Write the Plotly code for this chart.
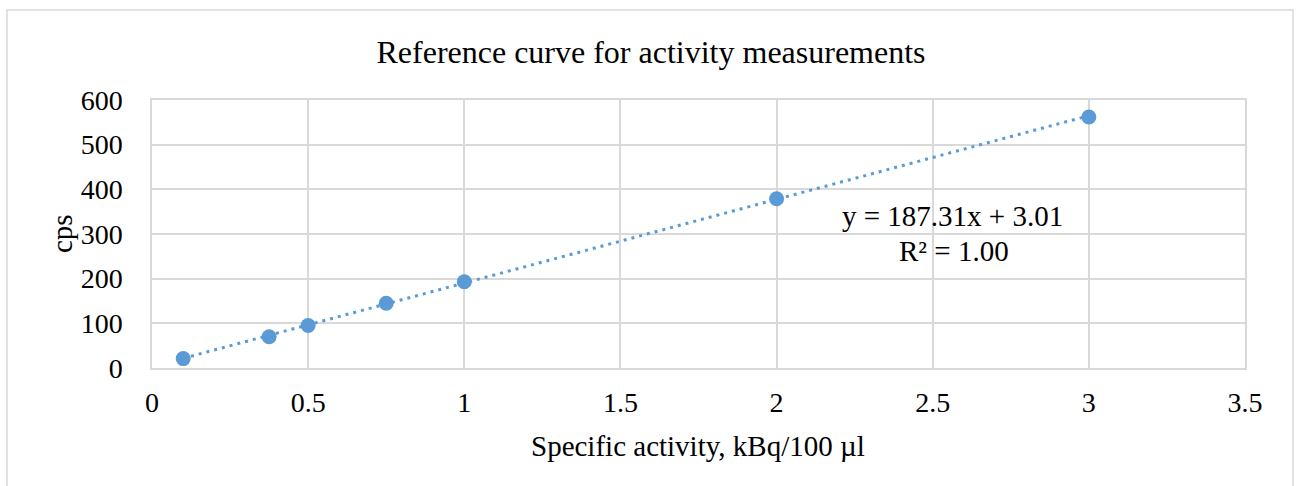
import plotly.graph_objects as go

# Data
activity = [0.1, 0.375, 0.5, 0.75, 1.0, 2.0, 3.0]
cps = [21, 70, 95, 145, 193, 379, 562]

# Displayed trendline coefficients
slope = 187.31
intercept = 3.01
r_squared = 1.00

x_ticks = [0, 0.5, 1, 1.5, 2, 2.5, 3, 3.5]
y_ticks = [0, 100, 200, 300, 400, 500, 600]

FONT = "Liberation Serif, Times New Roman, serif"
BLUE = "#5B9BD5"
GRID = "#d9d9d9"

trend_x = [min(activity), max(activity)]
trend_y = [slope * v + intercept for v in trend_x]

fig = go.Figure()
fig.add_trace(go.Scatter(
    x=trend_x, y=trend_y, mode="lines",
    line=dict(color=BLUE, width=3, dash="3px,5px"),
    hoverinfo="skip", showlegend=False,
))
fig.add_trace(go.Scatter(
    x=activity, y=cps, mode="markers",
    marker=dict(color=BLUE, size=15, line=dict(width=0)),
    showlegend=False,
))

W, H = 1299, 486
L, R, T, B = 152, 1245, 100, 368

fig.update_layout(
    width=W, height=H,
    margin=dict(l=L, r=W - R, t=T, b=H - B, pad=0),
    paper_bgcolor="white", plot_bgcolor="white",
    font=dict(family=FONT, size=28, color="black"),
    title=dict(text="Reference curve for activity measurements",
               x=651 / W, xanchor="center", xref="container",
               y=1 - 52 / H, yanchor="middle", yref="container",
               font=dict(family=FONT, size=32, color="black")),
    xaxis=dict(range=[0, 3.5], tickvals=x_ticks, ticktext=[f"{v:g}" for v in x_ticks],
               showgrid=True, gridcolor=GRID, gridwidth=1.5,
               showline=True, linecolor=GRID, linewidth=1.5, mirror=True,
               zeroline=False, ticks="outside", ticklen=9, tickcolor="rgba(0,0,0,0)",
               tickfont=dict(family=FONT, size=28, color="black")),
    yaxis=dict(range=[0, 600], tickvals=y_ticks, ticktext=[str(v) for v in y_ticks],
               showgrid=True, gridcolor=GRID, gridwidth=1.5,
               showline=True, linecolor=GRID, linewidth=1.5, mirror=True,
               zeroline=False, ticks="outside", ticklen=22, tickcolor="rgba(0,0,0,0)",
               tickfont=dict(family=FONT, size=28, color="black")),
    shapes=[dict(type="rect", xref="paper", yref="paper",
                 x0=(7 - L) / (R - L), x1=(1293 - L) / (R - L),
                 y0=(B - 520) / (B - T), y1=(B - 10) / (B - T),
                 line=dict(color=GRID, width=1.5), fillcolor="rgba(0,0,0,0)",
                 layer="below")],
    annotations=[
        dict(text="Specific activity, kBq/100 µl", xref="paper", yref="paper",
             x=(698 - L) / (R - L), y=(B - 446) / (B - T),
             xanchor="center", yanchor="middle", showarrow=False,
             font=dict(family=FONT, size=29, color="black")),
        dict(text="cps", xref="paper", yref="paper", textangle=-90,
             x=(62 - L) / (R - L), y=(B - 234) / (B - T),
             xanchor="center", yanchor="middle", showarrow=False,
             font=dict(family=FONT, size=29, color="black")),
        dict(text=f"y = {slope:.2f}x + {intercept:.2f}", xref="paper", yref="paper",
             x=(952 - L) / (R - L), y=(B - 216) / (B - T),
             xanchor="center", yanchor="middle", showarrow=False,
             font=dict(family=FONT, size=29, color="black")),
        dict(text=f"R² = {r_squared:.2f}", xref="paper", yref="paper",
             x=(954 - L) / (R - L), y=(B - 251) / (B - T),
             xanchor="center", yanchor="middle", showarrow=False,
             font=dict(family=FONT, size=29, color="black")),
    ],
)

fig.write_html("out.html")
